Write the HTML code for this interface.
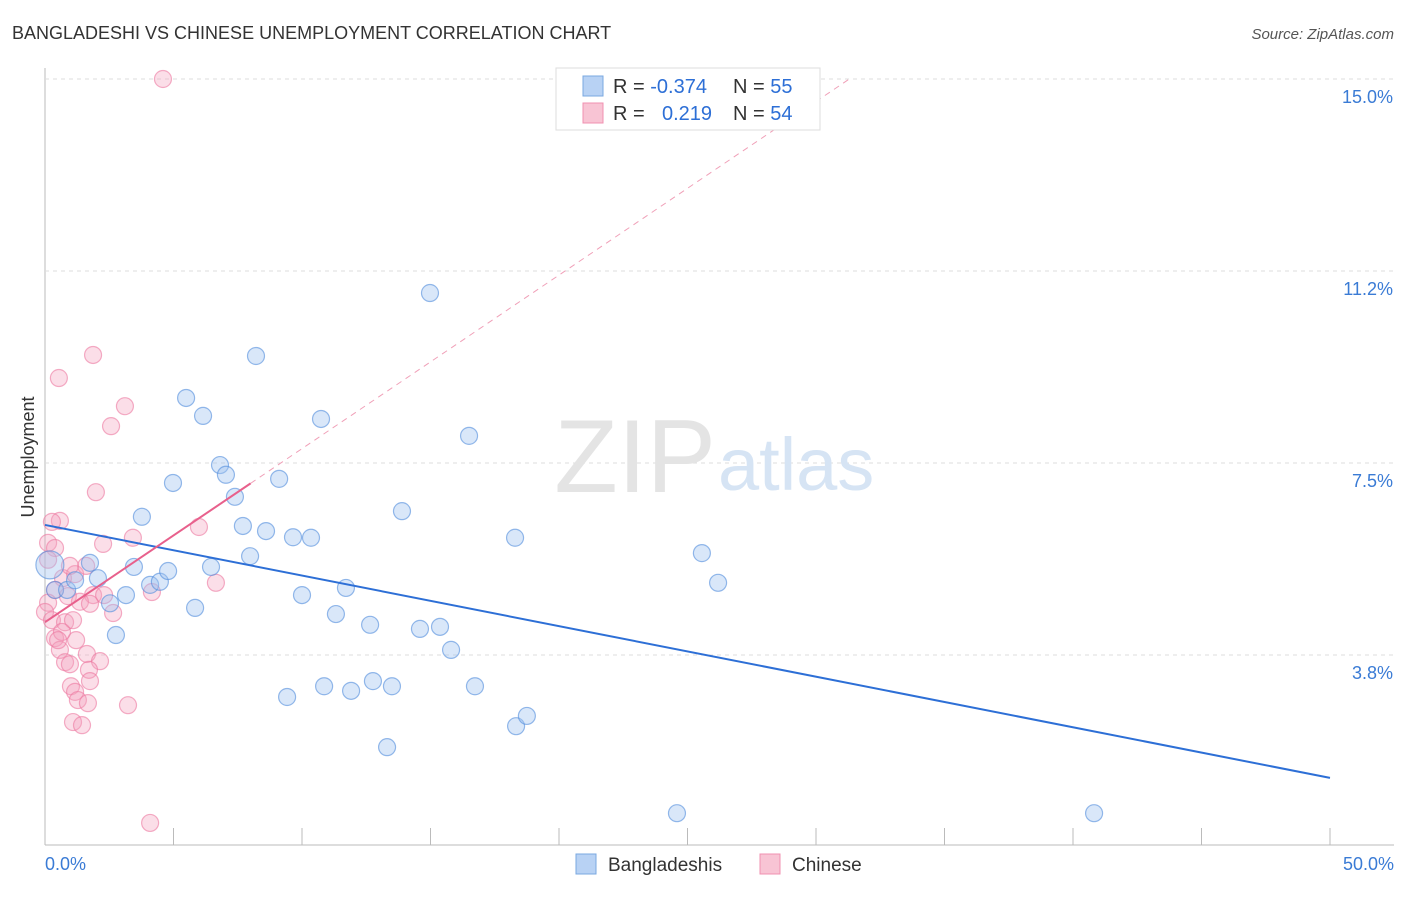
<!DOCTYPE html>
<html><head><meta charset="utf-8"><style>
body{margin:0;background:#fff;font-family:"Liberation Sans",sans-serif;}
svg text{font-family:"Liberation Sans",sans-serif;}
</style></head><body>
<svg id="chart" width="1406" height="892">
<text x="12" y="39" font-size="18" fill="#333">BANGLADESHI VS CHINESE UNEMPLOYMENT CORRELATION CHART</text>
<text x="1394" y="39" font-size="15" fill="#555" font-style="italic" text-anchor="end">Source: ZipAtlas.com</text>
<text x="34" y="457" font-size="18" fill="#333" transform="rotate(-90 34 457)" text-anchor="middle">Unemployment</text>
<g id="grid"></g>
<text x="716" y="492" font-size="104" fill="#e4e4e4" text-anchor="end" font-family="Liberation Serif">ZIP</text>
<text x="718" y="490" font-size="74" fill="#d6e4f4">atlas</text>
<g id="marks"></g>
<g id="lines"></g>
<g>
<rect x="556" y="68" width="264" height="62" fill="#fff" stroke="#ddd"/>
<rect x="583" y="76" width="20" height="20" fill="#b8d2f4" stroke="#7aa8e0"/>
<rect x="583" y="103" width="20" height="20" fill="#f8c4d4" stroke="#f090b0"/>
<text x="613" y="93" font-size="20" fill="#333">R = <tspan fill="#2d6fd6">-0.374</tspan><tspan x="733">N = </tspan><tspan fill="#2d6fd6">55</tspan></text>
<text x="613" y="120" font-size="20" fill="#333">R = <tspan fill="#2d6fd6" x="662">0.219</tspan><tspan x="733">N = </tspan><tspan fill="#2d6fd6">54</tspan></text>
</g>
<g>
<rect x="576" y="854" width="20" height="20" fill="#b8d2f4" stroke="#7aa8e0"/>
<text x="608" y="871" font-size="19" fill="#333">Bangladeshis</text>
<rect x="760" y="854" width="20" height="20" fill="#f8c4d4" stroke="#f090b0"/>
<text x="792" y="871" font-size="19" fill="#333">Chinese</text>
</g>
</svg>
<script>
const yTicks=[3.75,7.5,11.25,15];
const yTickLabels=["3.8%","7.5%","11.2%","15.0%"];
const xTickVals=[0,5,10,15,20,25,30,35,40,45,50];
const blueX=[0.19,0.39,0.86,1.17,1.75,2.06,2.53,2.76,3.15,3.46,3.77,4.09,4.47,4.79,4.98,5.49,5.84,6.15,6.46,6.81,7.04,7.39,7.70,7.98,8.21,8.60,9.11,9.42,9.65,10.0,10.35,10.74,10.86,11.32,11.71,11.91,12.65,12.76,13.31,13.5,13.89,14.59,14.98,15.37,15.80,16.5,16.73,18.29,18.33,18.75,24.59,25.56,26.19,40.82];
const blueY=[5.51,5.02,5.02,5.21,5.55,5.25,4.76,4.14,4.92,5.47,6.45,5.12,5.18,5.39,7.11,8.77,4.67,8.42,5.47,7.46,7.27,6.84,6.27,5.68,9.59,6.17,7.19,2.93,6.05,4.92,6.04,8.36,3.14,4.55,5.06,3.05,4.34,3.24,1.95,3.14,6.56,4.26,10.82,4.30,3.85,8.03,3.14,6.04,2.36,2.56,0.66,5.74,5.16,0.66];
const pinkX=[4.59,1.87,0.54,3.11,2.57,1.98,0.58,0.27,5.99,2.26,3.42,0.12,0.39,6.65,4.16,0.70,1.17,1.60,0.97,0.39,0.89,1.87,2.30,0.12,1.36,1.75,2.65,0,0.27,0.78,1.09,0.39,1.21,0.58,1.63,0.78,0.97,2.14,1.71,1.75,1.01,1.17,1.28,1.67,3.23,1.09,1.44,4.09,0.12,0.66,0.51];
const pinkY=[15.0,9.61,9.16,8.61,8.22,6.93,6.37,6.35,6.25,5.92,6.04,5.94,5.84,5.16,4.98,5.25,5.33,5.49,5.49,5.02,4.90,4.92,4.92,4.77,4.79,4.75,4.57,4.59,4.43,4.39,4.43,4.08,4.04,3.85,3.77,3.61,3.57,3.63,3.46,3.24,3.14,3.03,2.87,2.81,2.77,2.44,2.38,0.47,5.61,4.2,4.04];
const blueTrend=[6.29,1.35];
const pinkTrend=[4.39,0.339];
const NS="http://www.w3.org/2000/svg";
const X=v=>45+v*25.7, Y=v=>655-(v-3.75)*51.2;
function mk(tag,attrs,parent){const e=document.createElementNS(NS,tag);for(const k in attrs)e.setAttribute(k,attrs[k]);parent.appendChild(e);return e;}
const grid=document.getElementById('grid');
mk('line',{x1:45,y1:68,x2:45,y2:845,stroke:'#bbb'},grid);
mk('line',{x1:45,y1:845,x2:1394,y2:845,stroke:'#bbb'},grid);
yTicks.forEach((t,i)=>{
 const l=mk('line',{x1:45,y1:Y(t),x2:1394,y2:Y(t),stroke:'#ddd','stroke-dasharray':'4,4'},grid);
 
 
 const tx=mk('text',{x:1393,y:Y(t)+24,'font-size':18,fill:'#3a7bd5','text-anchor':'end'},grid);
 tx.textContent=yTickLabels[i];
 
 
});
xTickVals.forEach(t=>{
 const l=mk('line',{x1:X(t),y1:828,x2:X(t),y2:845,stroke:'#bbb'},grid);
 
 
});
const x0=mk('text',{x:45,y:870,'font-size':18,fill:'#3a7bd5'},grid);x0.textContent='0.0%';


const x1=mk('text',{x:1394,y:870,'font-size':18,fill:'#3a7bd5','text-anchor':'end'},grid);x1.textContent='50.0%';


const marks=document.getElementById('marks');
pinkX.forEach((v,i)=>{
 const c=mk('circle',{cx:X(v),cy:Y(pinkY[i]),r:8.5,fill:'rgba(244,160,188,0.35)',stroke:'rgba(236,120,160,0.6)','stroke-width':1.2},marks);
 
 
});
blueX.forEach((v,i)=>{
 const c=mk('circle',{cx:X(v),cy:Y(blueY[i]),r:i==0?14:8.5,fill:'rgba(160,196,240,0.4)',stroke:'rgba(80,140,220,0.6)','stroke-width':1.2},marks);
 
 
});
const lines=document.getElementById('lines');
const bl=mk('line',{x1:X(0),y1:Y(blueTrend[0]),x2:X(50),y2:Y(blueTrend[1]),stroke:'#2d6fd6','stroke-width':2},lines);


const xe=(15-pinkTrend[0])/pinkTrend[1];
const pd=mk('line',{x1:X(8),y1:Y(pinkTrend[0]+8*pinkTrend[1]),x2:X(xe),y2:Y(15),stroke:'#f0a0b8','stroke-width':1,'stroke-dasharray':'6,5'},lines);


const pl=mk('line',{x1:X(0),y1:Y(pinkTrend[0]),x2:X(8),y2:Y(pinkTrend[0]+8*pinkTrend[1]),stroke:'#e8608c','stroke-width':2},lines);


</script>
</body></html>
